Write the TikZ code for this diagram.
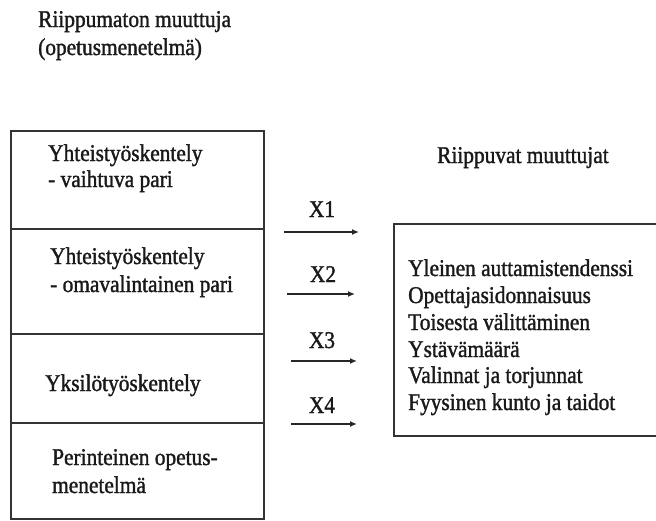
\documentclass[tikz,border=0pt]{standalone}
\usepackage{fontspec}
\setmainfont{Liberation Serif}[FakeStretch=0.89,FakeBold=1.4]
\usetikzlibrary{arrows.meta}
\begin{document}
\begin{tikzpicture}[x=1pt,y=-1pt,
  every node/.style={font=\fontsize{24}{27}\selectfont},
  sect/.style={draw=black!80, line width=1.6pt, inner sep=0pt, minimum width=253pt, anchor=north west},
  depbox/.style={draw=black!80, line width=1.6pt, inner sep=0pt, minimum width=275pt, minimum height=212pt, anchor=north west},
  txt/.style={inner sep=0pt, anchor=base west, text=black!90},
  lab/.style={inner sep=0pt, anchor=base, text=black!90},
  arr/.style={draw=black!85, line width=1.5pt, -{Latex[length=7pt,width=6pt]}}]
\useasboundingbox (0,0) rectangle (656,520);
% title
\node[txt] (h1) at (38,27) {Riippumaton muuttuja};
\node[txt] (h2) at (38,55) {(opetusmenetelmä)};
% left stacked box
\node[sect, minimum height=98pt] (s1) at (10,130) {};
\node[sect, minimum height=105pt] (s2) at (10,228) {};
\node[sect, minimum height=89pt] (s3) at (10,333) {};
\node[sect, minimum height=96pt] (s4) at (10,422) {};
\node[txt] (t1a) at (48,161) {Yhteistyöskentely};
\node[txt] (t1b) at (48,187) {- vaihtuva pari};
\node[txt] (t2a) at (50,264) {Yhteistyöskentely};
\node[txt] (t2b) at (50,292) {- omavalintainen pari};
\node[txt] (t3) at (45,391) {Yksilötyöskentely};
\node[txt] (t4a) at (52,465) {Perinteinen opetus-};
\node[txt] (t4b) at (52,493) {menetelmä};
% right box
\node[txt] (rh) at (437,163) {Riippuvat muuttujat};
\node[depbox] (dep) at (393,223) {};
\node[txt] (d1) at (408,276) {Yleinen auttamistendenssi};
\node[txt] (d2) at (408,303) {Opettajasidonnaisuus};
\node[txt] (d3) at (408,330) {Toisesta välittäminen};
\node[txt] (d4) at (408,357) {Ystävämäärä};
\node[txt] (d5) at (408,383) {Valinnat ja torjunnat};
\node[txt] (d6) at (408,410) {Fyysinen kunto ja taidot};
% arrows
\coordinate (a1s) at (284,232); \coordinate (a1e) at (359,232);
\coordinate (a2s) at (287,294); \coordinate (a2e) at (355,294);
\coordinate (a3s) at (291,361); \coordinate (a3e) at (357,361);
\coordinate (a4s) at (291,424); \coordinate (a4e) at (357,424);
\draw[arr] (a1s) -- (a1e);
\draw[arr] (a2s) -- (a2e);
\draw[arr] (a3s) -- (a3e);
\draw[arr] (a4s) -- (a4e);
\node[lab] (x1) at (322,217) {X1};
\node[lab] (x2) at (323,282) {X2};
\node[lab] (x3) at (322,348) {X3};
\node[lab] (x4) at (322,413) {X4};
\end{tikzpicture}
\end{document}
